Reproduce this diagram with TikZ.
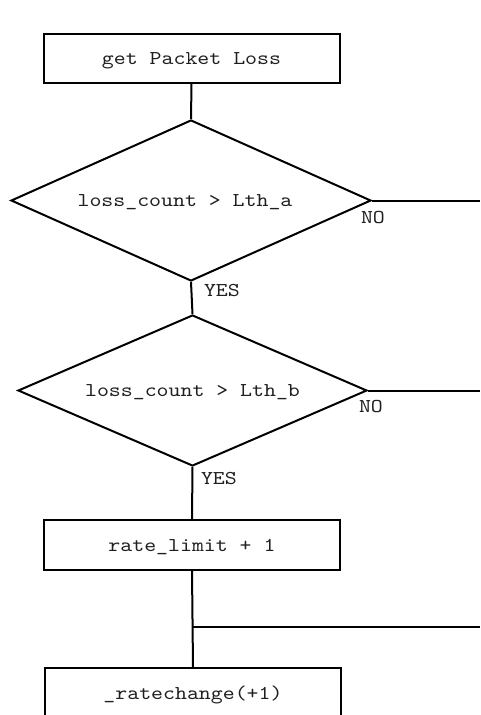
\documentclass[tikz,border=0pt]{standalone}
\usepackage{fontspec}
\usetikzlibrary{shapes.geometric}
% Courier-like typewriter face: Latin Modern Mono, slightly widened
\newfontfamily\flowfont{lmmono10-regular.otf}[FakeStretch=1.16]
\tikzset{
  every picture/.style={line width=1.5pt},
  txt/.style={font=\flowfont\fontsize{14.7pt}{17pt}\selectfont, text=black!88},
  procbox/.style={txt, draw, rectangle, inner sep=0pt, text depth=0pt,
                  minimum width=222pt, minimum height=36.75pt},
  decision/.style={txt, draw, diamond, inner sep=0pt, text depth=0pt},
  tag/.style={txt, anchor=west, inner sep=0pt},
  flow/.style={line width=1.5pt}
}
\begin{document}
\begin{tikzpicture}[x=0.75pt,y=-0.75pt]
  \useasboundingbox (0,0) rectangle (480,715);
  \clip (0,0) rectangle (480,715);

  % process and decision steps
  \node[procbox] (getloss) at (191.5,58.5) {get Packet Loss};
  \node[decision, shape aspect=2.236, minimum width=270pt, minimum height=120.75pt] (testa) at (191,200.5) {\hspace*{-9pt}loss\_count > Lth\_a};
  \node[decision, shape aspect=2.311, minimum width=261.75pt, minimum height=113.25pt] (testb) at (192.5,390.5) {loss\_count > Lth\_b};
  \node[procbox, minimum height=37.5pt] (inc) at (192,545) {rate\_limit + 1};
  \node[procbox] (change) at (193,692.5) {\_ratechange(+1)};

  % branch labels
  \node[tag] (noa) at (360,218) {NO};
  \node[tag] (yesa) at (203,291) {YES};
  \node[tag] (nob) at (358,407) {NO};
  \node[tag] (yesb) at (200,478.5) {YES};

  % right-hand edge and the merge point below the increment step
  \coordinate (edge) at (480,0);
  \coordinate (merge) at (193,627);

  % connectors
  \draw[flow] (getloss.south) -- (testa.north);
  \draw[flow] (testa.south) -- (testb.north);
  \draw[flow] (testb.south) -- (inc.north);
  \draw[flow] (inc.south) -- (change.north);
  \draw[flow] (testa.east) -- (testa.east -| edge);
  \draw[flow] (testb.east) -- (testb.east -| edge);
  \draw[flow] (merge) -- (merge -| edge);
\end{tikzpicture}
\end{document}
